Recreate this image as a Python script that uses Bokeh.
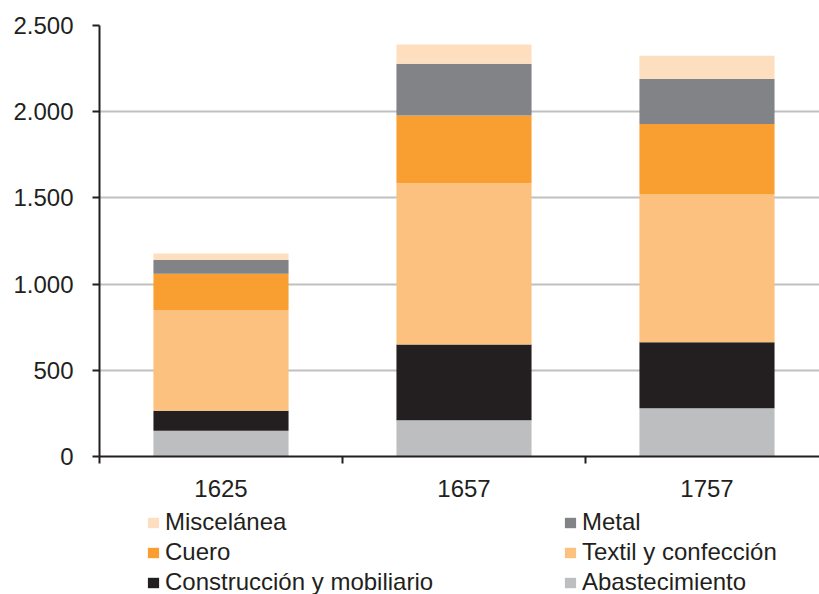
from bokeh.plotting import figure
from bokeh.layouts import column
from bokeh.models import ColumnDataSource, Legend, LegendItem, FixedTicker, Range1d
from bokeh.embed import file_html
from bokeh.resources import INLINE

years = ["1625", "1657", "1757"]
series = ["Abastecimiento", "Construcción y mobiliario", "Textil y confección",
          "Cuero", "Metal", "Miscelánea"]
abastecimiento = [150, 210, 280]
construccion = [115, 440, 383]
textil = [585, 935, 856]
cuero = [210, 393, 410]
metal = [80, 300, 261]
miscelanea = [38, 112, 135]
colors = ["#bdbec0", "#231f20", "#fcc17f", "#f99f31", "#828386", "#fddebe"]
y_ticks = [0, 500, 1000, 1500, 2000, 2500]

xs = [i + 0.5 for i in range(len(years))]
keys = ["abast", "constr", "textil", "cuero", "metal", "misc"]
source = ColumnDataSource(dict(x=xs, abast=abastecimiento, constr=construccion,
                               textil=textil, cuero=cuero, metal=metal, misc=miscelanea))

FONT = "Liberation Sans"
TXT = "#231f20"

p = figure(width=819, height=507, output_backend="svg", toolbar_location=None,
           x_range=Range1d(0, 2.963), y_range=Range1d(0, 2500),
           min_border_left=99, min_border_right=0, min_border_top=25, min_border_bottom=51)
p.outline_line_color = None
p.background_fill_color = "white"

renderers = p.vbar_stack(keys, x="x", width=0.556, source=source, color=colors,
                         line_color=None)

p.xgrid.grid_line_color = None
p.ygrid.grid_line_color = "#c0c0c0"
p.ygrid.grid_line_width = 2
p.ygrid.ticker = FixedTicker(ticks=y_ticks)

ya = p.yaxis[0]
ya.ticker = FixedTicker(ticks=y_ticks)
ya.major_label_overrides = {v: f"{v:,}".replace(",", ".") for v in y_ticks}
ya.axis_line_color = "#231f20"
ya.axis_line_width = 2
ya.major_tick_line_color = "#231f20"
ya.major_tick_line_width = 2
ya.major_tick_out = 7
ya.major_tick_in = 0
ya.minor_tick_line_color = None
ya.major_label_standoff = 19
ya.major_label_text_font = FONT
ya.major_label_text_font_size = "24px"
ya.major_label_text_color = TXT

xa = p.xaxis[0]
xa.ticker = FixedTicker(ticks=xs, minor_ticks=[float(i) for i in range(len(years) + 1)])
xa.major_label_overrides = {x: y for x, y in zip(xs, years)}
xa.axis_line_color = "#231f20"
xa.axis_line_width = 2
xa.major_tick_line_color = None
xa.major_tick_out = 0
xa.major_tick_in = 0
xa.minor_tick_line_color = "#231f20"
xa.minor_tick_line_width = 2
xa.minor_tick_out = 7
xa.minor_tick_in = 0
xa.major_label_standoff = 16
xa.major_label_text_font = FONT
xa.major_label_text_font_size = "24px"
xa.major_label_text_color = TXT

# legend strip below the chart (hidden copies of the bars supply the swatches)
lf = figure(width=819, height=87, output_backend="svg", toolbar_location=None,
            x_axis_type=None, y_axis_type=None, x_range=Range1d(0, 2.963),
            y_range=Range1d(0, 2500),
            min_border_left=99, min_border_right=0, min_border_top=0, min_border_bottom=0)
lf.outline_line_color = None
lf.xgrid.grid_line_color = None
lf.ygrid.grid_line_color = None
swatches = lf.vbar_stack(keys, x="x", width=0.556, source=source, color=colors,
                         line_color=None)
for r in swatches:
    r.visible = False

def make_legend(idx, loc):
    lg = Legend(items=[LegendItem(label=series[i], renderers=[swatches[i]]) for i in idx],
                location=loc, orientation="vertical")
    lg.padding = 0
    lg.margin = 0
    lg.border_line_color = None
    lg.background_fill_alpha = 0
    lg.inactive_fill_alpha = 0
    lg.glyph_width = 14
    lg.glyph_height = 13
    lg.label_standoff = 5
    lg.label_height = 30
    lg.spacing = 0
    lg.label_text_font = FONT
    lg.label_text_font_size = "24px"
    lg.label_text_color = TXT
    return lg

lf.add_layout(make_legend([5, 3, 1], (47, -3)), "center")
lf.add_layout(make_legend([4, 2, 0], (464, -3)), "center")

layout = column(p, lf, spacing=0)
open("out.html", "w").write(file_html(layout, INLINE))
